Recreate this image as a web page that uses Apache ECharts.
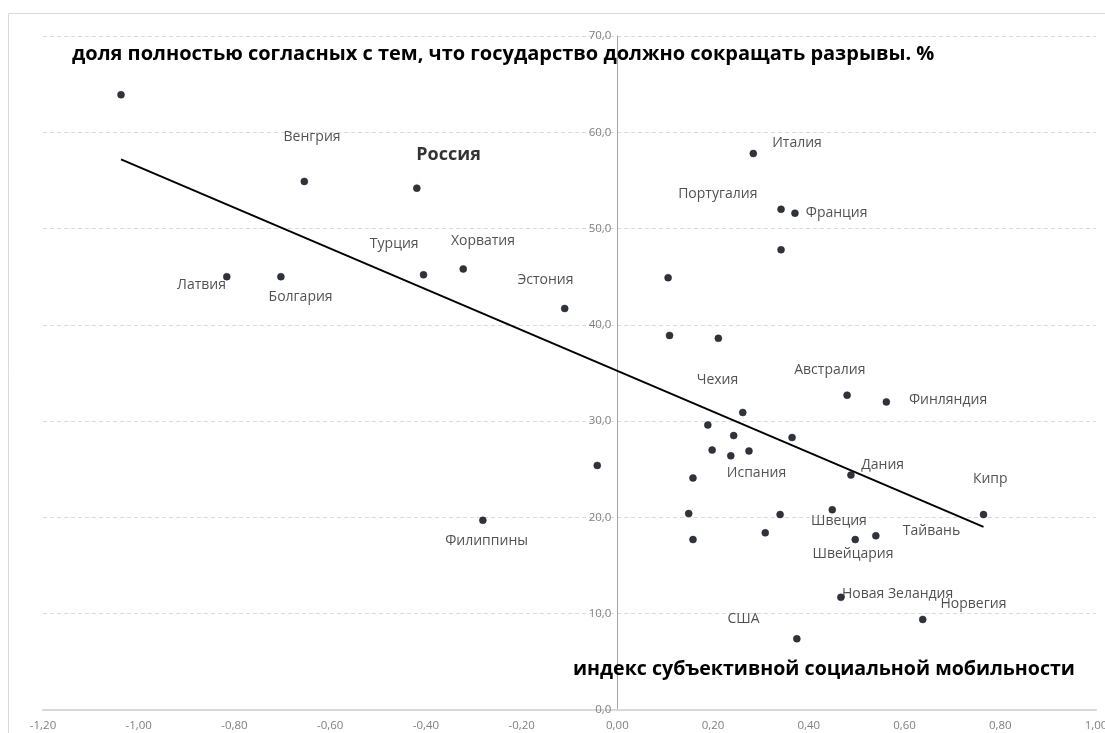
<!DOCTYPE html>
<html>
<head>
<meta charset="utf-8">
<script src="https://cdn.jsdelivr.net/npm/echarts@6/dist/echarts.min.js"></script>
<style>
  html, body { margin: 0; padding: 0; background: #fff; }
  #Chart { width: 1105px; height: 733px; }
</style>
</head>
<body>
<div id="Chart"></div>
<script>
// данные: страна, индекс мобильности (x), доля согласных (y)
const countries = [
  "", "Венгрия", "Россия", "Латвия", "Болгария", "Турция", "Хорватия", "Эстония",
  "Филиппины", "", "Италия", "Португалия", "Франция", "", "", "", "",
  "Австралия", "Финляндия", "Чехия", "", "", "", "", "", "Испания", "",
  "Дания", "", "", "", "", "Швеция", "Швейцария", "Тайвань", "Кипр",
  "Новая Зеландия", "Норвегия", "США"
]
const mobility = [
  -1.037, -0.654, -0.419, -0.816, -0.703, -0.405, -0.322, -0.110,
  -0.281, -0.042, 0.284, 0.342, 0.371, 0.342, 0.106, 0.109, 0.211,
  0.480, 0.562, 0.262, 0.189, 0.243, 0.365, 0.198, 0.275, 0.237, 0.158,
  0.488, 0.149, 0.158, 0.309, 0.340, 0.449, 0.497, 0.540, 0.765,
  0.467, 0.638, 0.375
]
const shareAgree = [
  63.9, 54.9, 54.2, 45.0, 45.0, 45.2, 45.8, 41.7,
  19.7, 25.4, 57.8, 52.0, 51.6, 47.8, 44.9, 38.9, 38.6,
  32.7, 32.0, 30.9, 29.6, 28.5, 28.3, 27.0, 26.9, 26.4, 24.1,
  24.4, 20.4, 17.7, 18.4, 20.3, 20.8, 17.7, 18.1, 20.3,
  11.7, 9.4, 7.4
]
const xTicks = { min: -1.2, max: 1.0, step: 0.2 }
const yTicks = { min: 0, max: 70, step: 10 }

// где стоят подписи относительно точки (px)
const labelOffsets = {
  "Венгрия": [8, -44],
  "Россия": [32, -33],
  "Латвия": [-25, 9],
  "Болгария": [20, 21],
  "Турция": [-29, -30],
  "Хорватия": [20, -28],
  "Эстония": [-19, -28],
  "Филиппины": [4, 21],
  "Италия": [44, -10],
  "Португалия": [-63, -15],
  "Франция": [42, 0],
  "Чехия": [-25, -32],
  "Австралия": [-17, -25],
  "Финляндия": [62, -2],
  "Испания": [26, 18],
  "Дания": [32, -10],
  "Кипр": [7, -35],
  "Швеция": [7, 12],
  "Тайвань": [56, -4],
  "Швейцария": [-2, 15],
  "Новая Зеландия": [57, -3],
  "Норвегия": [51, -15],
  "США": [-53, -19]
}

const font = "Open Sans, Noto Sans, sans-serif"
const comma = (v, d) => v.toFixed(d).replace(".", ",").replace("-0,00", "0,00")

// линейный тренд (МНК), как в Excel
const n = mobility.length
const mx = mobility.reduce((a, b) => a + b, 0) / n
const my = shareAgree.reduce((a, b) => a + b, 0) / n
let sxy = 0, sxx = 0
for (let i = 0; i < n; i++) {
  sxy += (mobility[i] - mx) * (shareAgree[i] - my)
  sxx += (mobility[i] - mx) ** 2
}
const slope = sxy / sxx
const icpt = my - slope * mx
const xLo = Math.min(...mobility)
const xHi = Math.max(...mobility)
const trend = [ [xLo, icpt + slope * xLo], [xHi, icpt + slope * xHi] ]

const symSize = 7
const points = mobility.map((x, i) => {
  const name = countries[i]
  const item = { value: [x, shareAgree[i]], name: name }
  if (name) {
    const off = labelOffsets[name] || [0, -14]
    item.label = { show: true, position: [symSize / 2 + off[0], symSize / 2 + off[1]] }
    if (name === "Россия") {
      item.label.fontWeight = "bold"
      item.label.fontSize = 18
      item.label.color = "#000"
    }
  }
  return item
})

// сетка; вертикальная ось стоит на x = 0
const grid = { left: 43, right: 9, top: 36, bottom: 23 }
const plotW = 1105 - grid.left - grid.right
const yAxisShift = plotW * (0 - xTicks.min) / (xTicks.max - xTicks.min)

const chart = echarts.init(document.getElementById("Chart"), null, { renderer: "canvas" })
const option = {
  animation: false,
  backgroundColor: "#fff",
  textStyle: { fontFamily: font },
  grid: Object.assign({ outerBoundsMode: "none" }, grid),
  xAxis: {
    type: "value",
    min: xTicks.min,
    max: xTicks.max,
    interval: xTicks.step,
    axisLine: { onZero: false, lineStyle: { color: "#d9d9d9", width: 2 } },
    axisTick: { show: false },
    splitLine: { show: false },
    axisLabel: { color: "#7f7f7f", fontSize: 11.5, margin: 10, formatter: v => comma(v, 2) }
  },
  yAxis: {
    type: "value",
    min: yTicks.min,
    max: yTicks.max,
    interval: yTicks.step,
    offset: -yAxisShift,
    axisLine: { show: true, onZero: false, lineStyle: { color: "#a6a6a6", width: 1 } },
    axisTick: { show: false },
    splitLine: { lineStyle: { color: "#d9d9d9", type: [4, 3] } },
    axisLabel: { color: "#7f7f7f", fontSize: 11.5, margin: 6, formatter: v => comma(v, 1) }
  },
  graphic: [
    {
      type: "rect", silent: true, z: -1,
      shape: { x: 8.5, y: 13.5, width: 1110, height: 740 },
      style: { fill: "none", stroke: "#d9d9d9", lineWidth: 1 }
    },
    {
      type: "text", left: 72, top: 44, z: 10,
      style: {
        text: "доля полностью согласных с тем, что государство должно сокращать разрывы. %",
        font: "bold 20px " + font, fill: "#000"
      }
    },
    {
      type: "text", left: 573, top: 659, z: 10,
      style: {
        text: "индекс субъективной социальной мобильности",
        font: "bold 19.6px " + font, fill: "#000"
      }
    }
  ],
  series: [
    {
      type: "line",
      data: trend,
      showSymbol: false,
      lineStyle: { color: "#000", width: 2 },
      z: 3
    },
    {
      type: "scatter",
      data: points,
      symbol: "circle",
      symbolSize: symSize,
      itemStyle: { color: "#000", borderColor: "#0d2147", borderWidth: 0.6 },
      label: {
        show: false,
        formatter: "{b}",
        color: "#262626",
        fontSize: 14,
        align: "center",
        verticalAlign: "middle"
      },
      z: 4
    }
  ]
}
chart.setOption(option)
</script>
</body>
</html>
